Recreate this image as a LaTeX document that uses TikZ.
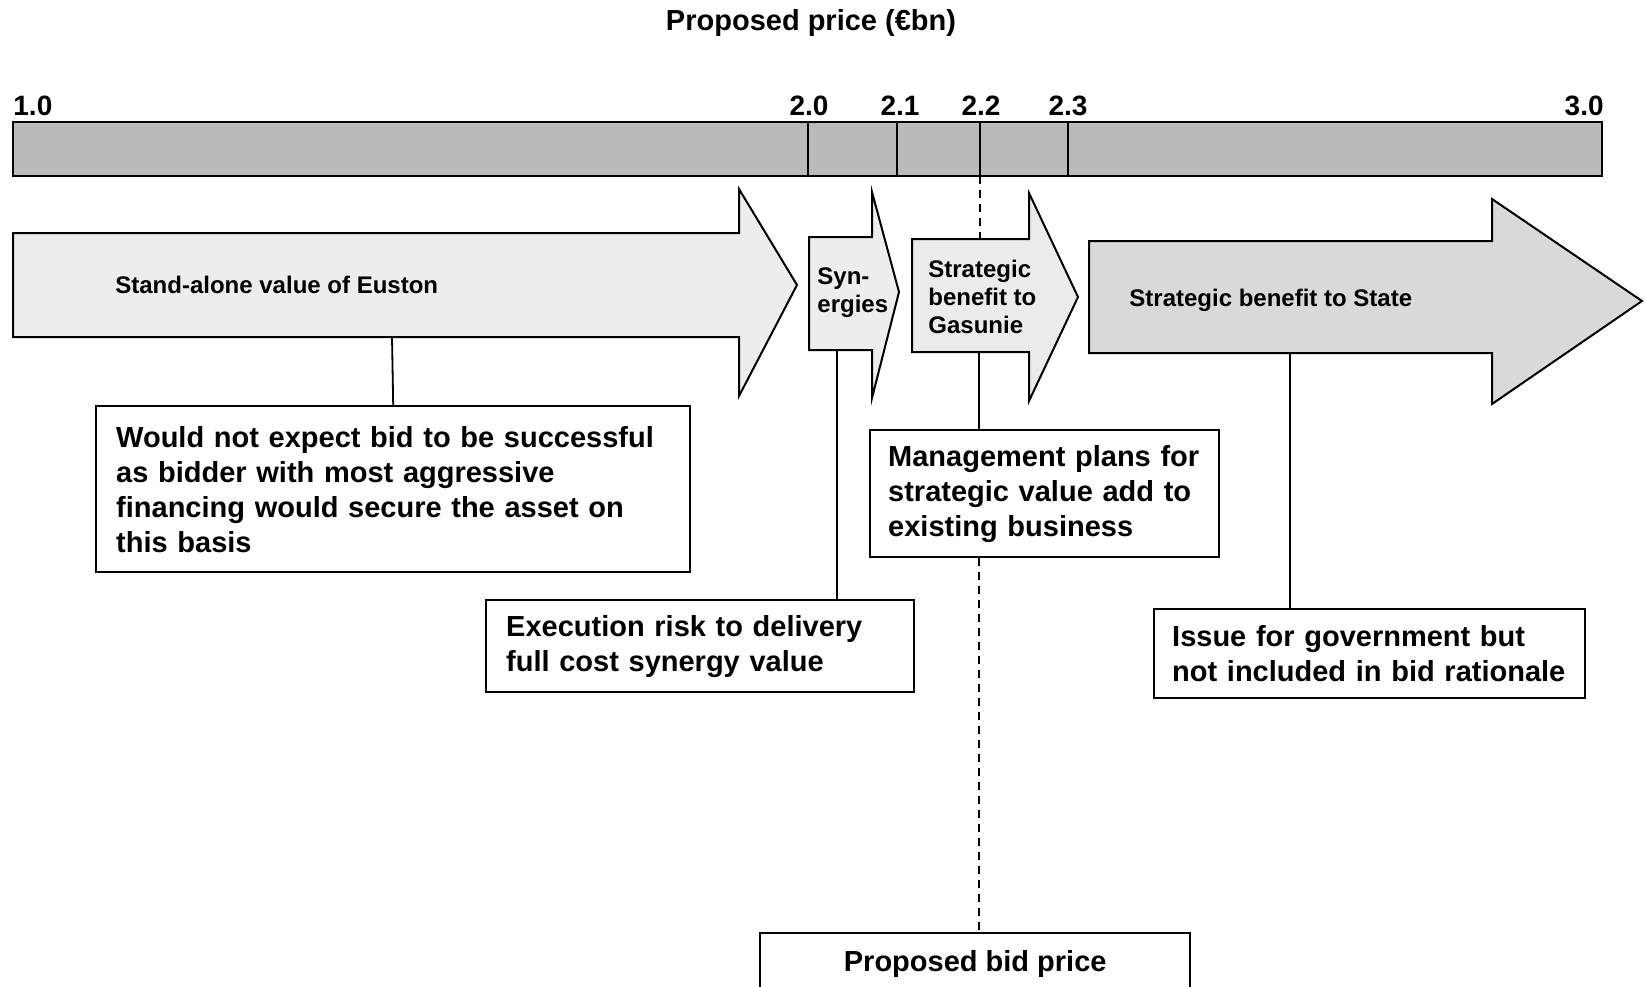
\documentclass[tikz,border=0pt]{standalone}
\usepackage{fontspec}
\setmainfont{Liberation Sans}
\tikzset{
    mybox/.style={rectangle, draw=black, line width=1.2pt, fill=white, inner xsep=10pt, inner ysep=0pt, align=left, font=\bfseries\fontsize{14.5}{17.5}\selectfont},
    myarrow/.style={draw=black, line width=1pt, line join=miter},
    mylabel/.style={inner sep=0pt, align=left, font=\bfseries\fontsize{12}{14}\selectfont},
    mytick/.style={inner sep=0pt, font=\bfseries\fontsize{14}{16}\selectfont},
    mylink/.style={draw=black, line width=0.9pt},
    mydash/.style={draw=black, line width=1.3pt, dash pattern=on 4pt off 3pt}
}

\begin{document}
\begin{tikzpicture}[x=0.5pt, y=-0.5pt]
\useasboundingbox (0,0) rectangle (1644,986);

% price scale
\node[mytick, font=\bfseries\fontsize{14.5}{17}\selectfont] (title) at (811,23) {Proposed price (€bn)};
\draw[myarrow, fill=black!27] (13,122) rectangle (1602,176);
\foreach \x in {808,897,980,1068}
    \draw[line width=0.6pt] (\x,122) -- (\x,176);
\node[mytick, anchor=west] (p10) at (13,106) {1.0};
\node[mytick] (p20) at (809,106) {2.0};
\node[mytick] (p21) at (900,106) {2.1};
\node[mytick] (p22) at (981,106) {2.2};
\node[mytick] (p23) at (1068,106) {2.3};
\node[mytick, anchor=east] (p30) at (1604,106) {3.0};
\coordinate (bidtop) at (980,176);

% value arrows
\draw[myarrow, fill=black!7] (13,233) -- (739,233) -- (739,189) -- (797,285) -- (739,396) -- (739,337) -- (13,337) -- cycle;
\draw[myarrow, fill=black!7] (809,237) -- (872,237) -- (872,192) -- (899,292) -- (872,398) -- (872,350) -- (809,350) -- cycle;
\draw[myarrow, fill=black!8] (912,239) -- (1029,239) -- (1029,193) -- (1078,297) -- (1029,401) -- (1029,352) -- (912,352) -- cycle;
\draw[myarrow, fill=black!15] (1089,241) -- (1492,241) -- (1492,199) -- (1642,301) -- (1492,404) -- (1492,353) -- (1089,353) -- cycle;

\node[mylabel, anchor=west] (euston) at (115,285) {Stand-alone value of Euston};
\node[mylabel, anchor=west] (synergy) at (817,293) {Syn-\\ergies};
\node[mylabel, anchor=west] (gasunie) at (928,297) {Strategic\\benefit to\\Gasunie};
\node[mylabel, anchor=west] (state) at (1129,300) {Strategic benefit to State};

\coordinate (eustonfoot) at (392,337);
\coordinate (synfoot) at (837,350);
\coordinate (gastop) at (980,239);
\coordinate (gasfoot) at (979,352);
\coordinate (statefoot) at (1290,353);

% comment boxes
\node[mybox, anchor=north west, text width=277pt, minimum height=83pt] (biddingbox) at (95,405)
    {Would not expect bid to be successful\\as bidder with most aggressive\\financing would secure the asset on\\this basis};
\node[mybox, anchor=north west, text width=194pt, minimum height=46pt] (execbox) at (485,599)
    {Execution risk to delivery\\full cost synergy value};
\node[mybox, anchor=north west, inner xsep=9pt, text width=156.5pt, minimum height=63.5pt] (mgmtbox) at (869,429)
    {Management plans for\\strategic value add to\\existing business};
\node[mybox, anchor=north west, inner xsep=9pt, text width=197.5pt, minimum height=44.5pt] (govbox) at (1153,608)
    {Issue for government but\\not included in bid rationale};
\node[mybox, anchor=north west, align=center, minimum width=215pt, minimum height=31pt] (bidbox) at (759,932)
    {Proposed bid price};

% links
\draw[mylink] (eustonfoot) -- (biddingbox.north);
\draw[mylink] (synfoot) -- (synfoot |- execbox.north);
\draw[mydash] (bidtop) -- (gastop);
\draw[mylink] (gasfoot) -- (gasfoot |- mgmtbox.north);
\draw[mydash] (gasfoot |- mgmtbox.south) -- (gasfoot |- bidbox.north);
\draw[mylink] (statefoot) -- (statefoot |- govbox.north);

\end{tikzpicture}
\end{document}
